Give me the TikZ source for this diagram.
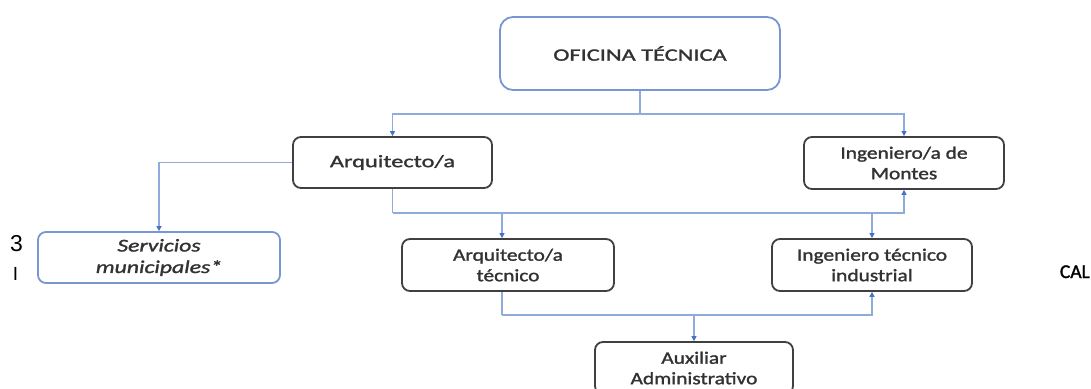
\documentclass[tikz,border=0pt]{standalone}
\usepackage{fontspec}
\setmainfont{Carlito}[FakeStretch=1.40, FakeBold=1.5]
\newfontfamily\narrowfont{Carlito}[FakeStretch=1.23, FakeBold=1.5]
\newfontfamily\italfont{Carlito}[FakeStretch=1.32, FakeBold=1.5]
\newfontfamily\plainfont{Carlito}[FakeBold=1.5]
\newfontfamily\arialfont{Liberation Sans}
\usetikzlibrary{arrows.meta}
\definecolor{linkblue}{RGB}{143,170,220}
\definecolor{tipblue}{RGB}{68,114,196}
\definecolor{boxblue}{RGB}{120,150,210}
\definecolor{boxdark}{RGB}{64,64,64}
\definecolor{txt}{RGB}{50,50,50}
\tikzset{
  orgbox/.style={draw=boxdark, line width=1.8pt, rounded corners=8pt, fill=white,
    align=center, text=txt, inner sep=0pt,
    font=\fontsize{17.4}{22}\selectfont},
  twoline/.style={orgbox, font=\narrowfont\fontsize{17.4}{20.5}\selectfont},
  bluebox/.style={orgbox, draw=boxblue},
  link/.style={draw=linkblue, line width=1.3pt, -{Triangle[length=5pt,width=5pt,color=tipblue]}},
  plainlink/.style={draw=linkblue, line width=1.3pt},
  stray/.style={inner sep=0pt, text=black}
}
\begin{document}
\begin{tikzpicture}[x=1pt,y=-1pt]
\path[use as bounding box, clip] (0,0) rectangle (1091,388);
\fill[white] (0,0) rectangle (1091,388);

\node[bluebox, rounded corners=13pt, minimum width=280pt, minimum height=73pt] (ofi) at (640,53.5) {OFICINA TÉCNICA};
\node[orgbox, minimum width=199pt, minimum height=51pt] (arq) at (392.5,162.5) {Arquitecto/a};
\node[twoline, minimum width=200pt, minimum height=52pt] (mon) at (904,163) {Ingeniero/a de\\Montes};
\node[bluebox, font=\italfont\fontsize{18}{21.5}\selectfont\itshape, minimum width=242pt, minimum height=51pt] (ser) at (159,257.5) {Servicios\\municipales*};
\node[twoline, minimum width=212pt, minimum height=52pt] (arqt) at (508,265) {Arquitecto/a\\técnico};
\node[twoline, minimum width=200pt, minimum height=52pt] (ingt) at (872,265) {Ingeniero técnico\\industrial};
\node[twoline, minimum width=198pt, minimum height=52pt] (aux) at (694,368) {Auxiliar\\Administrativo};

\coordinate (h1) at (0,114);
\coordinate (h2) at (0,213);
\coordinate (h3) at (0,315);
\coordinate (v1) at (502,0);

\draw[plainlink] (ofi.south) -- (ofi.south |- h1) coordinate (t1);
\draw[link] (t1) -| (arq.north);
\draw[link] (t1) -| (mon.north);

\draw[link] (arq.west) -| (ser.north);

\draw[plainlink] (arq.south) -- (arq.south |- h2) coordinate (t2);
\draw[link] (t2) -| (mon.south);
\draw[link] (v1 |- h2) -- (v1 |- arqt.north);
\draw[link] (ingt.north |- h2) -- (ingt.north);

\draw[plainlink] (v1 |- arqt.south) -- (v1 |- h3) coordinate (t3);
\draw[link] (t3) -| (ingt.south);
\draw[link] (aux.north |- h3) -- (aux.north);

\node[stray, font=\arialfont\fontsize{23}{23}\selectfont, anchor=base] (s3) at (16.5,251) {3};
\node[stray, font=\arialfont\fontsize{19}{19}\selectfont, anchor=base] (sI) at (15.5,280) {I};
\node[stray, font=\plainfont\fontsize{19.5}{19.5}\selectfont, anchor=base east] (scal) at (1090,278) {CAL};
\end{tikzpicture}
\end{document}
